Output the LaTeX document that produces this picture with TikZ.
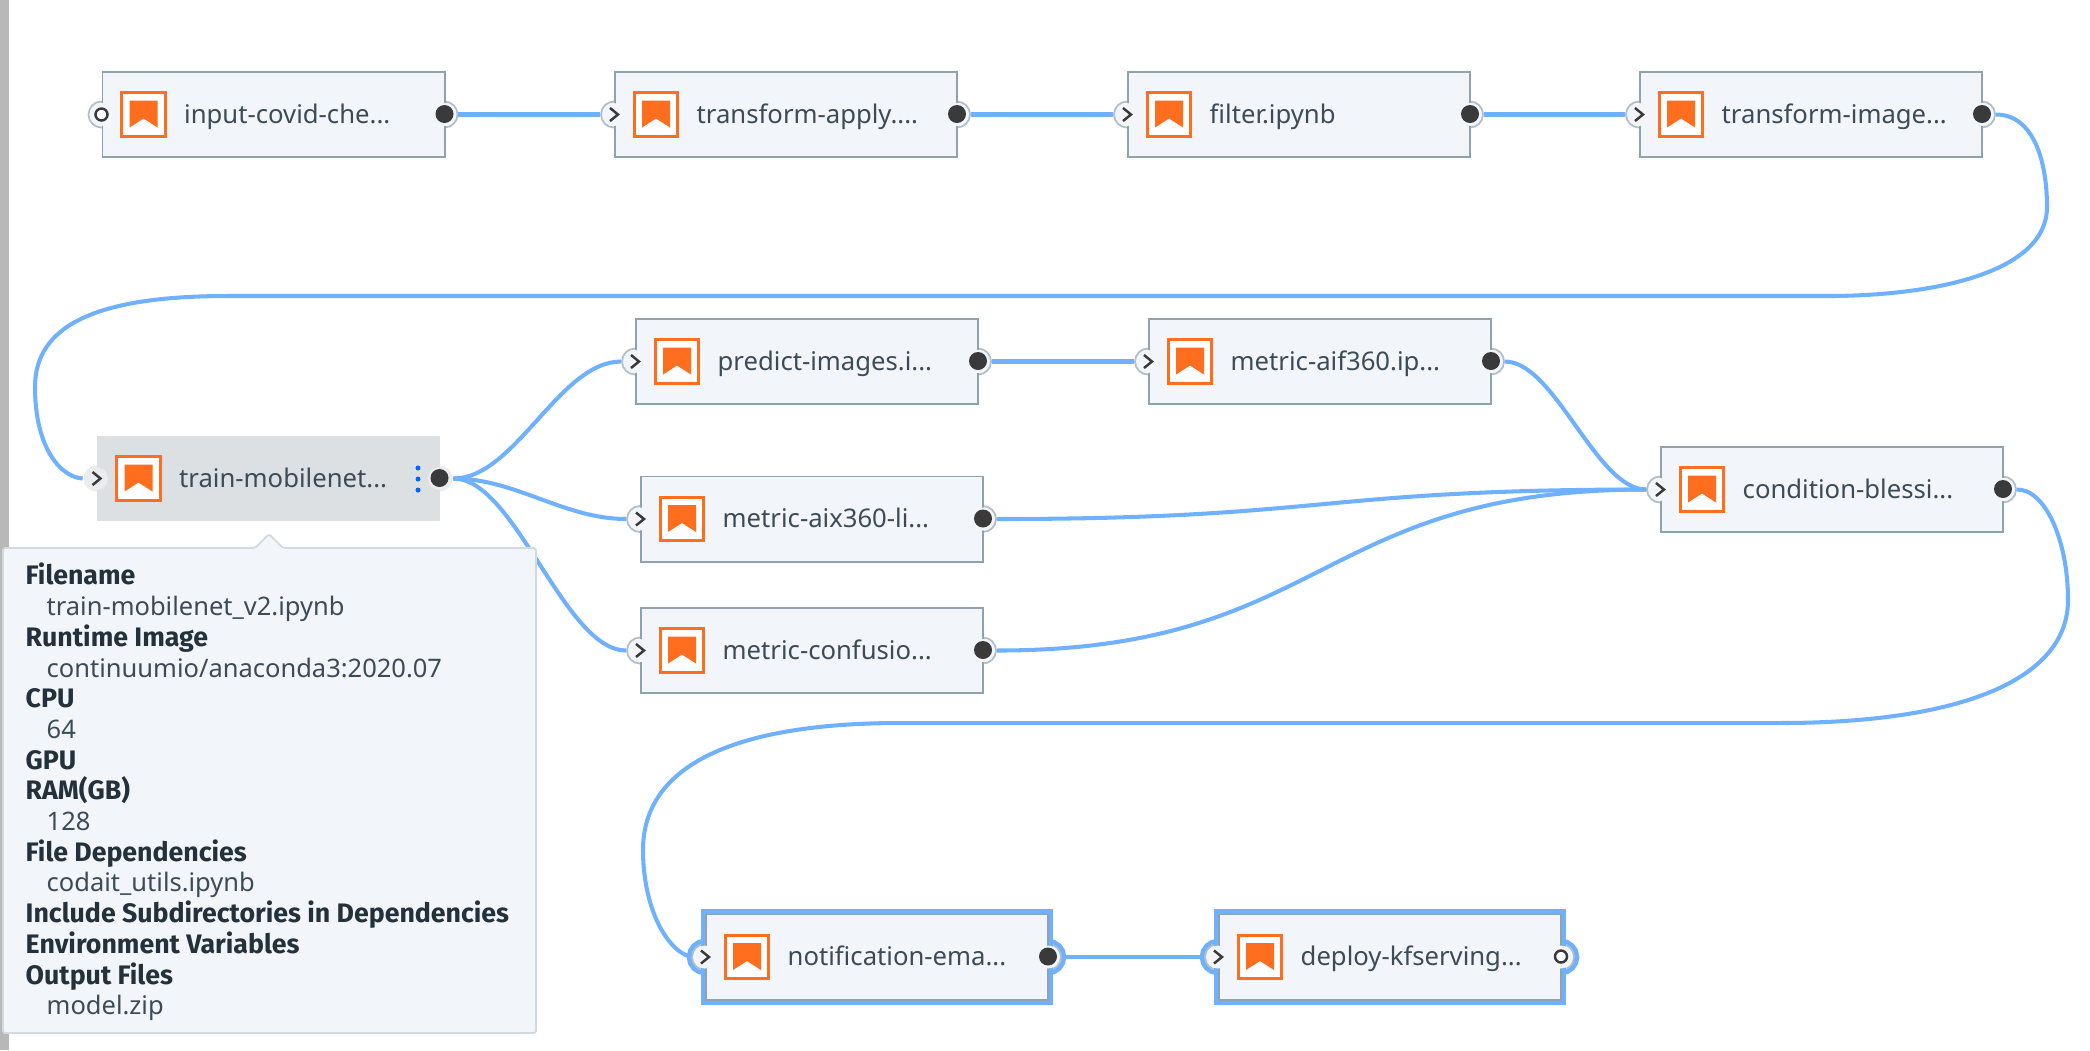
\documentclass[tikz,border=0pt]{standalone}
\usepackage{fontspec}
\setmainfont{Noto Sans}
\newfontfamily\tiphead{Fira Sans}
\definecolor{linkblue}{HTML}{6FB1FF}
\definecolor{boxfill}{HTML}{F2F5FA}
\definecolor{boxline}{HTML}{8FA3AE}
\definecolor{inktext}{HTML}{3B4C58}
\definecolor{tiptext}{HTML}{22313C}
\definecolor{portdark}{HTML}{3A3A3A}
\definecolor{iconorange}{HTML}{FF6D1F}
\definecolor{trainfill}{HTML}{DCE0E3}
\newcommand{\tiplabel}[1]{{\color{tiptext}\tiphead\bfseries\fontsize{7.6}{8.73}\selectfont #1}}
\begin{document}
\begin{tikzpicture}[x=0.01cm,y=-0.01cm]
  \tikzset{
    link/.style={linkblue,line width=1.15pt},
    boxlook/.style={draw=boxline,fill=boxfill,line width=0.55pt},
    bumplook/.style={draw=boxline!70,fill=boxfill,line width=0.5pt},
    facelook/.style={fill=boxfill},
    chevmark/.style={circle,inner sep=0pt,minimum size=0.2cm,path picture={
        \draw[portdark,line width=0.7pt] ([shift={(-4,-6.5)}]path picture bounding box.center)
          -- ([shift={(4,0)}]path picture bounding box.center)
          -- ([shift={(-4,6.5)}]path picture bounding box.center);}},
    ringmark/.style={circle,draw=portdark,line width=0.7pt,fill=white,inner sep=0pt,minimum size=0.12cm},
    dotmark/.style={circle,fill=portdark,inner sep=0pt,minimum size=0.18cm},
    inmark/.style={chevmark},
    outmark/.style={dotmark},
    selected/.style={
      boxlook/.append style={preaction={draw=linkblue,line width=3pt}},
      bumplook/.append style={preaction={draw=linkblue,line width=3pt}}},
    trainlook/.style={
      boxlook/.append style={draw=none,fill=trainfill,minimum height=0.88cm},
      bumplook/.append style={draw=none,fill=trainfill!60},
      facelook/.append style={fill=trainfill!60}},
    kebab/.style={circle,fill=blue!60!cyan,inner sep=0pt,minimum size=0.05cm},
    pics/pipestep/.style={code={
      \node[circle,bumplook,inner sep=0pt,minimum size=0.26cm] (-in) at (0,0) {};
      \node[circle,bumplook,inner sep=0pt,minimum size=0.26cm] (-out) at (343,0) {};
      \node[boxlook,anchor=west,inner sep=0pt,minimum width=3.42cm,minimum height=0.85cm] (-box) at (0,0) {};
      \node[circle,facelook,inner sep=0pt,minimum size=0.23cm] (-inface) at (0,0) {};
      \node[circle,facelook,inner sep=0pt,minimum size=0.23cm] (-outface) at (343,0) {};
      \node[inmark] (-inmark) at (0,0) {};
      \node[outmark] (-outmark) at (343,-0.5) {};
      \node[draw=iconorange,fill=white,line width=0.8pt,inner sep=0pt,minimum size=0.435cm] (-icon) at (42,0) {};
      \fill[iconorange] (28,-14) -- (56,-14) -- (56,13) -- (42,4) -- (28,13) -- cycle;
      \node[anchor=base west,inner sep=0pt,inktext,font=\fontsize{7.3}{9}\selectfont] (-label) at (82,8.5) {#1};
    }},
  }
  \fill[black!28] (0,0) rectangle (8.5,1050);
  \useasboundingbox (0,0) rectangle (2090,1050);

  \pic (input) at (101.5,114.5) [inmark/.style={ringmark}] {pipestep={input-covid-che...}};
  \pic (apply) at (614,114.5) {pipestep={transform-apply....}};
  \pic (filter) at (1127,114.5) {pipestep={filter.ipynb}};
  \pic (image) at (1639,114.5) {pipestep={transform-image...}};
  \pic (train) at (96.5,478.5) [trainlook] {pipestep={train-mobilenet...}};
  \pic (predict) at (635,361.5) {pipestep={predict-images.i...}};
  \pic (aif) at (1148,361.5) {pipestep={metric-aif360.ip...}};
  \pic (aix) at (640,519) {pipestep={metric-aix360-li...}};
  \pic (confusion) at (640,650.5) {pipestep={metric-confusio...}};
  \pic (blessing) at (1660,489.5) {pipestep={condition-blessi...}};
  \pic (email) at (705,957) [selected] {pipestep={notification-ema...}};
  \pic (deploy) at (1218,957) [selected,outmark/.style={ringmark}] {pipestep={deploy-kfserving...}};

  \node[kebab] (menua) at (418,468) {};
  \node[kebab] (menub) at (418,479) {};
  \node[kebab] (menuc) at (418,490) {};

  \coordinate (farright) at (2047,207);
  \coordinate (upperr) at (1827,296);
  \coordinate (upperl) at (227,296);
  \coordinate (farleft) at (35,387);
  \coordinate (sideright) at (2068,600);
  \coordinate (lowerr) at (1780,723);
  \coordinate (lowerl) at (900,723);
  \coordinate (sideleft) at (643,850);

  % the connection between the steps
  \draw[link] (input-out) -- (apply-in);
  \draw[link] (apply-out) -- (filter-in);
  \draw[link] (filter-out) -- (image-in);
  \draw[link] (image-out.east) .. controls (2033,114.5) and (2047,160) .. (farright)
    .. controls (2047,273) and (1933,296) .. (upperr) -- (upperl)
    .. controls (93,296) and (35,327) .. (farleft)
    .. controls (35,447) and (60,477) .. (train-in.west);

  \draw[link] (train-out.east) .. controls +(62,0) and +(-62,0) .. (predict-in.west);
  \draw[link] (train-out.east) .. controls +(62,0) and +(-62,0) .. (aix-in.west);
  \draw[link] (train-out.east) .. controls +(62,0) and +(-62,0) .. (confusion-in.west);
  \draw[link] (predict-out) -- (aif-in);

  \draw[link] (aif-out.east) .. controls +(50,0) and +(-50,0) .. (blessing-in.west);
  \draw[link] (aix-out.east) .. controls +(330,0) and +(-330,0) .. (blessing-in.west);
  \draw[link] (confusion-out.east) .. controls +(330,0) and +(-330,0) .. (blessing-in.west);

  \draw[link] (blessing-out.east) .. controls (2045,489) and (2068,540) .. (sideright)
    .. controls (2068,680) and (1960,723) .. (lowerr) -- (lowerl)
    .. controls (735,723) and (643,765) .. (sideleft)
    .. controls (643,905) and (665,950) .. (email-in.west);
  \draw[link] (email-out) -- (deploy-in);

  % the details of the train step
  \draw[draw=boxline!40,fill=boxfill,line width=0.5pt,rounded corners=0.5pt]
    (3,548) -- (255,548) -- (269,534) -- (283,548) -- (536,548) -- (536,1033) -- (3,1033) -- cycle;
  \node[anchor=north west,inner sep=0pt,align=left,text=inktext,font=\fontsize{7.25}{8.73}\selectfont] (tipinfo) at (25,562.5) {%
    \tiplabel{Filename}\\
    \hspace*{0.21cm}train-mobilenet\_v2.ipynb\\
    \tiplabel{Runtime Image}\\
    \hspace*{0.21cm}continuumio/anaconda3:2020.07\\
    \tiplabel{CPU}\\
    \hspace*{0.21cm}64\\
    \tiplabel{GPU}\\
    \tiplabel{RAM(GB)}\\
    \hspace*{0.21cm}128\\
    \tiplabel{File Dependencies}\\
    \hspace*{0.21cm}codait\_utils.ipynb\\
    \tiplabel{Include Subdirectories in Dependencies}\\
    \tiplabel{Environment Variables}\\
    \tiplabel{Output Files}\\
    \hspace*{0.21cm}model.zip};
\end{tikzpicture}
\end{document}
